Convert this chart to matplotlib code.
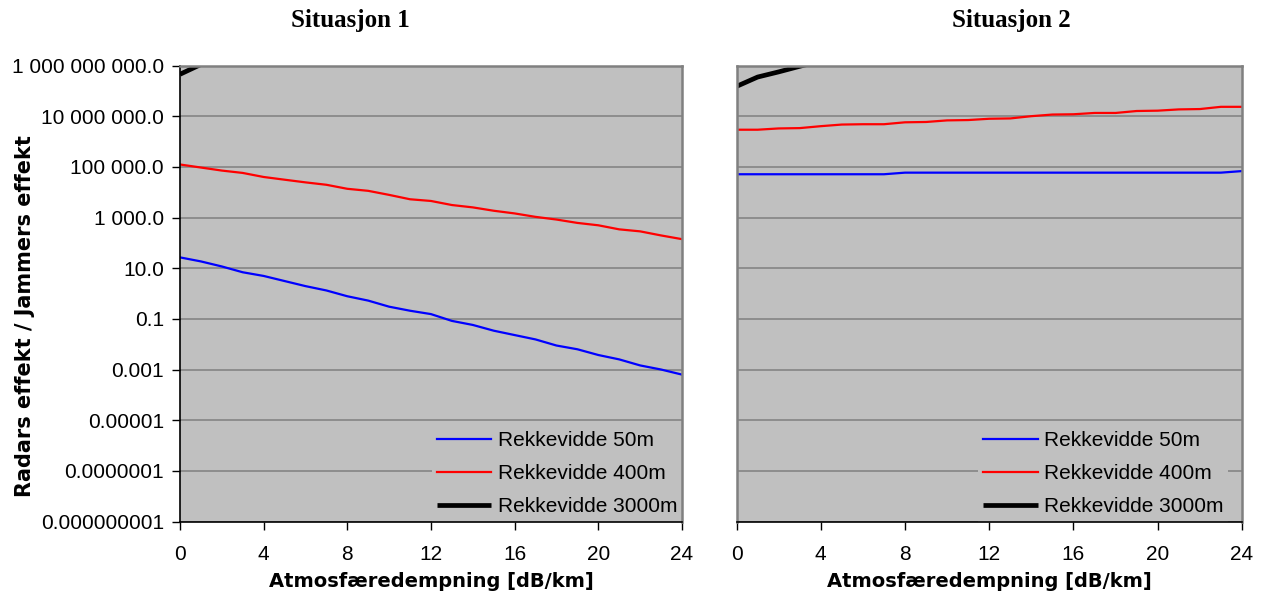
import matplotlib
matplotlib.use("Agg")
import matplotlib.pyplot as plt
from matplotlib.ticker import FixedLocator, FixedFormatter, NullLocator

plt.rcParams['font.family'] = ['Liberation Sans', 'DejaVu Sans']

# atmospheric attenuation [dB/km]
x = list(range(25))
x_3000_s1 = [0, 1, 2]
x_3000_s2 = [0, 1, 2, 3, 4]

# Situasjon 1
s1_50m = [26.7, 18.5, 11.7, 6.9, 4.94, 3.11, 1.96, 1.32, 0.78, 0.525, 0.302,
          0.209, 0.154, 0.083, 0.0575, 0.0341, 0.0229, 0.0154, 0.00885,
          0.0063, 0.00374, 0.00251, 0.00145, 0.001, 0.00063]
s1_400m = [124000, 94000, 71300, 57500, 39800, 31100, 24400, 19600, 13600,
           11300, 7820, 5250, 4500, 3110, 2510, 1850, 1450, 1060, 832, 612,
           493, 341, 284, 196, 140]
s1_3000m = [4.5e8, 1.1e9, 2.7e9]  # rest is above the top of the scale

# Situasjon 2
s2_50m = [5.1e4, 5.1e4, 5.1e4, 5.1e4, 5.1e4, 5.1e4, 5.1e4, 5.1e4, 5.9e4,
          5.9e4, 5.9e4, 5.9e4, 5.9e4, 5.9e4, 5.9e4, 5.9e4, 5.9e4, 5.9e4,
          5.9e4, 5.9e4, 5.9e4, 5.9e4, 5.9e4, 5.9e4, 6.8e4]
s2_400m = [2.92e6, 2.92e6, 3.28e6, 3.38e6, 4.03e6, 4.67e6, 4.81e6, 4.81e6,
           5.73e6, 5.9e6, 6.82e6, 7.03e6, 7.91e6, 8.15e6, 1.0e7, 1.16e7,
           1.19e7, 1.34e7, 1.34e7, 1.6e7, 1.65e7, 1.85e7, 1.91e7, 2.34e7,
           2.34e7]
s2_3000m = [1.5e8, 3.5e8, 5.6e8, 9.3e8, 1.5e9]

y_ticks = [1e9, 1e7, 1e5, 1e3, 1e1, 1e-1, 1e-3, 1e-5, 1e-7, 1e-9]
y_labels = ['1 000 000 000.0', '10 000 000.0', '100 000.0', '1 000.0',
            '10.0', '0.1', '0.001', '0.00001', '0.0000001', '0.000000001']
x_ticks = [0, 4, 8, 12, 16, 20, 24]
series_labels = ['Rekkevidde 50m', 'Rekkevidde 400m', 'Rekkevidde 3000m']

BG = '#c0c0c0'
GRID = '#808080'

fig = plt.figure(figsize=(12.69, 5.95), dpi=100)
ax1 = fig.add_axes([0.1418, 0.1235, 0.3956, 0.7664])
ax2 = fig.add_axes([0.5804, 0.1235, 0.3983, 0.7664])


def setup(ax, show_y):
    ax.set_facecolor(BG)
    ax.set_yscale('log')
    ax.set_ylim(1e-9, 1e9)
    ax.set_xlim(0, 24)
    ax.yaxis.set_major_locator(FixedLocator(y_ticks))
    ax.yaxis.set_minor_locator(NullLocator())
    ax.xaxis.set_major_locator(FixedLocator(x_ticks))
    ax.grid(True, axis='y', color=GRID, lw=1.1)
    ax.set_axisbelow(True)
    for s in ax.spines.values():
        s.set_color(GRID)
        s.set_linewidth(1.8)
    ax.spines['bottom'].set_color('black')
    ax.spines['bottom'].set_linewidth(1.2)
    ax.tick_params(axis='x', direction='out', length=6, width=1,
                   labelsize=15, pad=11)
    if show_y:
        ax.spines['left'].set_color('black')
        ax.spines['left'].set_linewidth(1.2)
        ax.yaxis.set_major_formatter(FixedFormatter(y_labels))
        ax.tick_params(axis='y', direction='out', length=6, width=1,
                       labelsize=15, pad=5.5)
    else:
        ax.tick_params(axis='y', length=0, labelleft=False)


def draw(ax, s50, s400, x3000, s3000, leg_x):
    ax.plot(x, s50, color='#0000ff', lw=1.6, label=series_labels[0])
    ax.plot(x, s400, color='#ff0000', lw=1.6, label=series_labels[1])
    ax.plot(x3000, s3000, color='black', lw=3.4, label=series_labels[2],
            solid_capstyle='butt')
    leg = ax.legend(loc='lower left', bbox_to_anchor=(leg_x, 0.0),
                    fontsize=15, frameon=True, facecolor=BG, edgecolor='none',
                    framealpha=1, fancybox=False, borderaxespad=0,
                    borderpad=0.25, handlelength=2.6, handletextpad=0.3,
                    labelspacing=0.67)
    leg.set_zorder(2)
    ax.set_xlabel('Atmosfæredempning [dB/km]', family='DejaVu Sans',
                  fontweight='bold', fontsize=14, labelpad=6)


setup(ax1, True)
setup(ax2, False)
draw(ax1, s1_50m, s1_400m, x_3000_s1, s1_3000m, 0.502)
draw(ax2, s2_50m, s2_400m, x_3000_s2, s2_3000m, 0.478)

fig.text(350 / 1269, 1 - 27 / 595, 'Situasjon 1', family='Liberation Serif',
         fontweight='bold', fontsize=18, ha='center', va='baseline')
fig.text(1011 / 1269, 1 - 27 / 595, 'Situasjon 2', family='Liberation Serif',
         fontweight='bold', fontsize=18, ha='center', va='baseline')
fig.text(25 / 1269, 1 - 316 / 595, 'Radars effekt / Jammers effekt',
         family='DejaVu Sans', fontweight='bold', fontsize=15,
         rotation=90, ha='center', va='center')

fig.savefig('out.png', dpi=100)
